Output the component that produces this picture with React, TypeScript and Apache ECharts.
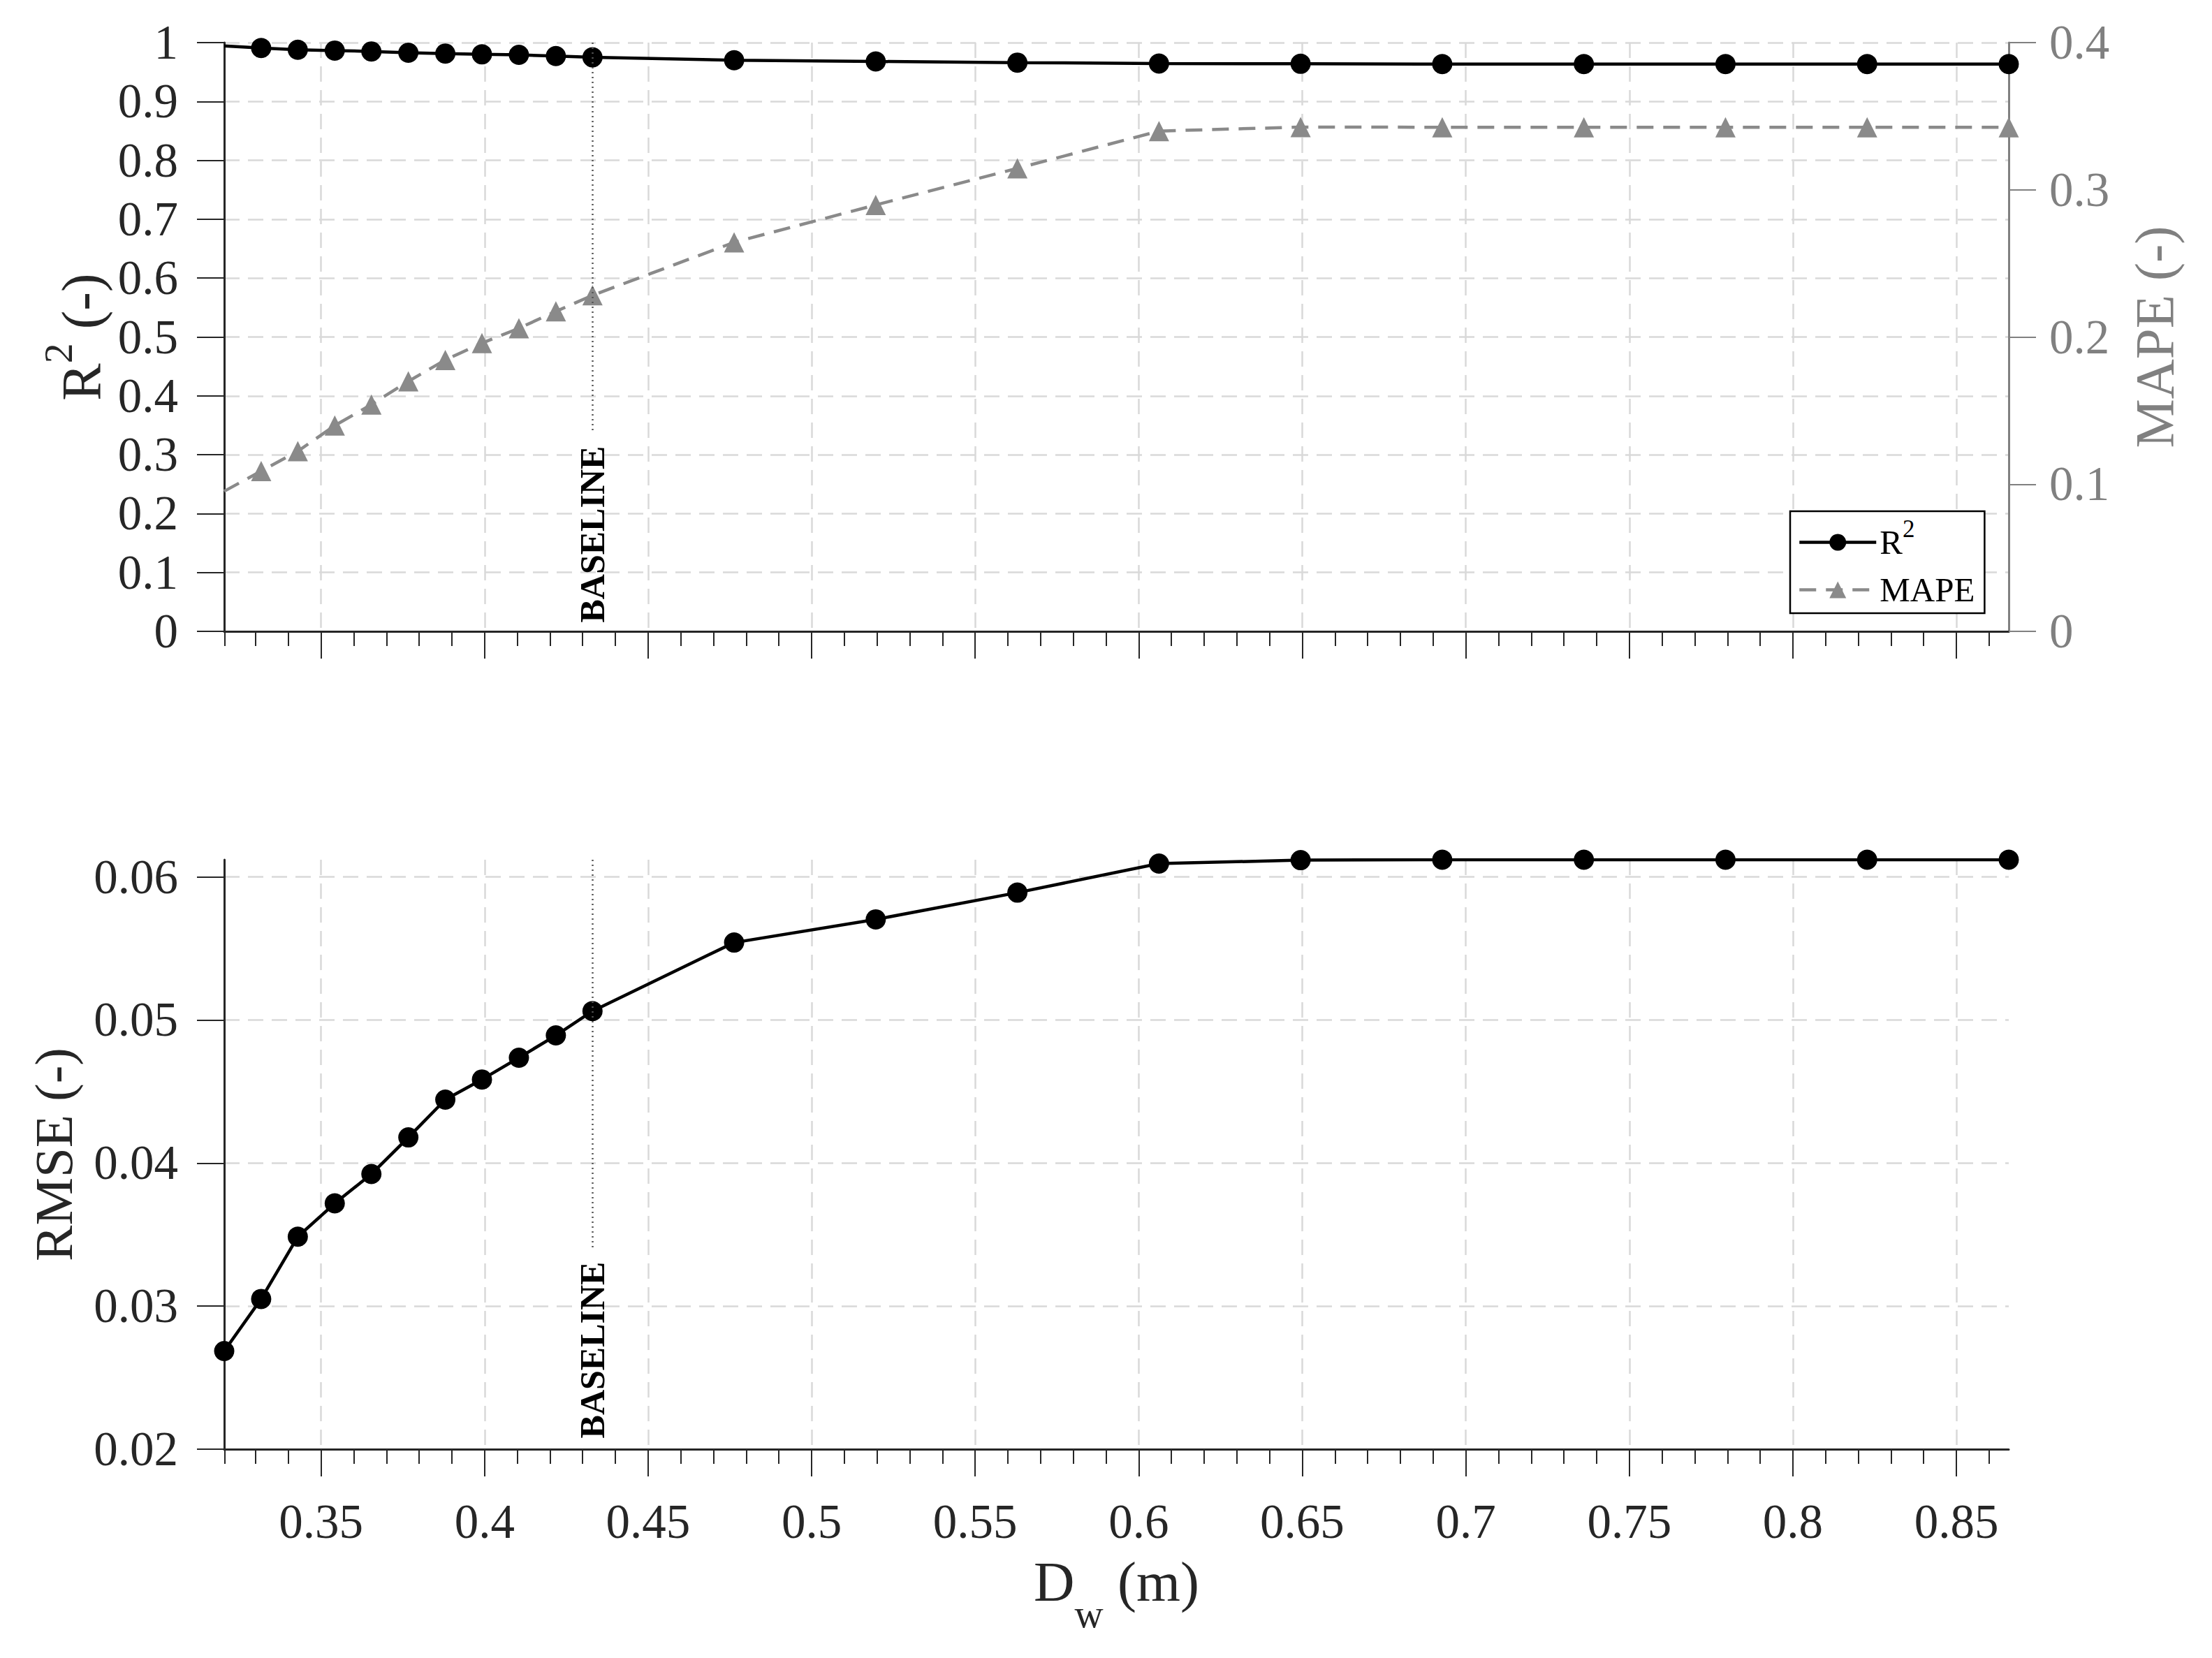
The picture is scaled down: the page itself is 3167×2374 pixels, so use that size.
import React, { useEffect, useRef } from 'react';
import * as echarts from 'echarts';

// ---- data ----
const dw = [0.3204, 0.3317, 0.3429, 0.3542, 0.3654, 0.3767, 0.388, 0.3992, 0.4105, 0.4218, 0.433,
  0.4763, 0.5196, 0.5629, 0.6062, 0.6495, 0.6928, 0.7361, 0.7794, 0.8227, 0.866];
const r2Values = [0.9944, 0.9908, 0.9879, 0.9865, 0.985, 0.9828, 0.9814, 0.98, 0.9792, 0.9771, 0.975,
  0.97, 0.968, 0.966, 0.9644, 0.964, 0.9636, 0.9636, 0.9636, 0.9636, 0.9636];
const mapeValues = [0.0952, 0.1089, 0.1224, 0.1398, 0.1541, 0.1699, 0.1844, 0.1958, 0.2059, 0.2174, 0.2283,
  0.2643, 0.2897, 0.3146, 0.3399, 0.3426, 0.3425, 0.3425, 0.3425, 0.3425, 0.3425];
const rmseValues = [0.02686, 0.0305, 0.03485, 0.03718, 0.03923, 0.04179, 0.04443, 0.04584, 0.04736, 0.04892, 0.05062,
  0.05541, 0.05703, 0.0589, 0.06093, 0.06117, 0.0612, 0.0612, 0.0612, 0.0612, 0.0612];

const xMin = 0.3204;
const xMax = 0.866;
const xMajorTicks = [0.35, 0.4, 0.45, 0.5, 0.55, 0.6, 0.65, 0.7, 0.75, 0.8, 0.85];
const xMinorTicks = [0.3205, 0.33, 0.34, 0.36, 0.37, 0.38, 0.39, 0.41, 0.42, 0.43, 0.44, 0.46, 0.47, 0.48, 0.49,
  0.51, 0.52, 0.53, 0.54, 0.56, 0.57, 0.58, 0.59, 0.61, 0.62, 0.63, 0.64, 0.66, 0.67, 0.68, 0.69,
  0.71, 0.72, 0.73, 0.74, 0.76, 0.77, 0.78, 0.79, 0.81, 0.82, 0.83, 0.84, 0.86];
const rmseTicks = [0.02, 0.03, 0.04, 0.05, 0.06];
const rmseMin = 0.02;
const rmseMax = 0.0612;

const baselineX = 0.433;
const baselineR2Line = [1, 0.339];
const baselineRmseLine = [0.0612, 0.0339];
const baselineR2LabelY = 0.0148;
const baselineRmseLabelY = 0.02076;

const FONT = "'Liberation Serif', 'Times New Roman', serif";
const AXIS = '#262626';
const GRAYAX = '#808080';
const SERIES_GRAY = '#8a8a8a';
const GRID_LINE = { show: true, lineStyle: { color: '#d9d9d9', width: 2.5, type: [22, 12] } };

function buildOption(): any {
  const r2Data = dw.map((x, i) => (i === 0 ? { value: [x, r2Values[i]], symbol: 'none' } : [x, r2Values[i]]));
  const mapeData = dw.map((x, i) => (i === 0 ? { value: [x, mapeValues[i]], symbol: 'none' } : [x, mapeValues[i]]));
  const rmseData = dw.map((x, i) => [x, rmseValues[i]]);

  const tickLabel = { fontFamily: FONT, fontSize: 69, color: AXIS };

  const mainX = (gridIndex: number, showLabels: boolean) => ({
    type: 'value', gridIndex, position: 'bottom', min: xMin, max: xMax,
    axisLine: { show: true, onZero: false, lineStyle: { color: AXIS, width: 3 } },
    axisTick: { show: true, length: 39, customValues: xMajorTicks, lineStyle: { color: AXIS, width: 2 } },
    axisLabel: showLabels
      ? { show: true, customValues: xMajorTicks, margin: 69, ...tickLabel, formatter: (v: number) => `${v}` }
      : { show: false },
    splitLine: GRID_LINE,
    minorTick: { show: false },
  });
  const minorX = (gridIndex: number) => ({
    type: 'value', gridIndex, position: 'bottom', min: xMin, max: xMax,
    axisLine: { show: false },
    axisTick: { show: true, length: 21, customValues: xMinorTicks, lineStyle: { color: AXIS, width: 2 } },
    axisLabel: { show: false },
    splitLine: { show: false },
  });

  const xAxis: any[] = [mainX(0, false), minorX(0), mainX(1, true), minorX(1)];
  xAxis[2].name = 'D{sub|w} (m)';
  xAxis[2].nameLocation = 'middle';
  xAxis[2].nameGap = 149;
  xAxis[2].nameMoveOverlap = false;
  xAxis[2].nameTextStyle = {
    fontFamily: FONT, fontSize: 81, color: AXIS, lineHeight: 81,
    rich: { sub: { fontFamily: FONT, fontSize: 57, color: AXIS, lineHeight: 57, padding: [92, 0, 0, 0] } },
  };

  const yAxis = [
    {
      type: 'value', gridIndex: 0, position: 'left', min: 0, max: 1, interval: 0.1,
      axisLine: { show: true, lineStyle: { color: AXIS, width: 3 } },
      axisTick: { show: true, length: 39, lineStyle: { color: AXIS, width: 2 } },
      axisLabel: { show: true, margin: 66, ...tickLabel },
      splitLine: GRID_LINE,
      name: 'R{sup|2} (-)', nameLocation: 'middle', nameRotate: 90, nameGap: 164, nameMoveOverlap: false,
      nameTextStyle: {
        fontFamily: FONT, fontSize: 80, color: AXIS, lineHeight: 80,
        rich: { sup: { fontFamily: FONT, fontSize: 58, color: AXIS, lineHeight: 58, padding: [0, 0, 68, 0] } },
      },
    },
    {
      type: 'value', gridIndex: 0, position: 'right', min: 0, max: 0.4, interval: 0.1,
      axisLine: { show: true, lineStyle: { color: GRAYAX, width: 3 } },
      axisTick: { show: true, length: 39, lineStyle: { color: GRAYAX, width: 2 } },
      axisLabel: { show: true, margin: 58, ...tickLabel, color: GRAYAX },
      splitLine: { show: false },
      name: 'MAPE (-)', nameLocation: 'middle', nameRotate: 90, nameGap: 169, nameMoveOverlap: false,
      nameTextStyle: { fontFamily: FONT, fontSize: 79, color: GRAYAX },
    },
    {
      type: 'value', gridIndex: 1, position: 'left', min: rmseMin, max: rmseMax,
      axisLine: { show: true, lineStyle: { color: AXIS, width: 3 } },
      axisTick: { show: true, length: 39, customValues: rmseTicks, lineStyle: { color: AXIS, width: 2 } },
      axisLabel: { show: true, margin: 66, customValues: rmseTicks, ...tickLabel, formatter: (v: number) => `${v}` },
      splitLine: GRID_LINE,
      name: 'RMSE (-)', nameLocation: 'middle', nameRotate: 90, nameGap: 206, nameMoveOverlap: false,
      nameTextStyle: { fontFamily: FONT, fontSize: 77, color: AXIS },
    },
  ];

  const baselineLabel = {
    show: true, formatter: 'BASELINE', position: 'inside', align: 'left', verticalAlign: 'middle', rotate: 90,
    fontFamily: FONT, fontWeight: 'bold', fontSize: 50, color: '#000',
  };
  const baselineLineStyle = { type: [2, 5], width: 2.5, color: '#555' };

  return {
    animation: false,
    backgroundColor: '#ffffff',
    textStyle: { fontFamily: FONT },
    grid: [
      { left: 321, top: 61, width: 2555, height: 843, outerBoundsMode: 'none', containLabel: false },
      { left: 321, top: 1231, width: 2555, height: 844, outerBoundsMode: 'none', containLabel: false },
    ],
    legend: {
      show: true, orient: 'vertical', left: 2563, top: 732,
      data: ['R2', 'MAPE'],
      backgroundColor: '#ffffff', borderColor: '#000', borderWidth: 2.5, borderRadius: 0,
      padding: [8, 14, 9, 11], itemGap: 7, itemWidth: 110, itemHeight: 30,
      selectedMode: false,
      lineStyle: { width: 4.5 },
      formatter: (name: string) => (name === 'R2' ? 'R{sup|2}' : name),
      textStyle: {
        fontFamily: FONT, fontSize: 49, color: '#000', lineHeight: 49,
        rich: { sup: { fontFamily: FONT, fontSize: 35, color: '#000', lineHeight: 35, padding: [0, 0, 38, 0] } },
      },
    },
    xAxis,
    yAxis,
    series: [
      {
        name: 'MAPE', type: 'line', xAxisIndex: 0, yAxisIndex: 1, data: mapeData,
        symbol: 'triangle', symbolSize: 29, showSymbol: true,
        lineStyle: { color: SERIES_GRAY, width: 4.5, type: [24, 14] },
        itemStyle: { color: SERIES_GRAY },
        z: 3,
      },
      {
        name: 'R2', type: 'line', xAxisIndex: 0, yAxisIndex: 0, data: r2Data,
        symbol: 'circle', symbolSize: 29, showSymbol: true,
        lineStyle: { color: '#000', width: 4.5 },
        itemStyle: { color: '#000' },
        z: 4,
        markLine: {
          silent: true, symbol: ['none', 'none'], label: { show: false },
          lineStyle: baselineLineStyle,
          data: [[{ coord: [baselineX, baselineR2Line[0]] }, { coord: [baselineX, baselineR2Line[1]] }]],
        },
        markPoint: {
          silent: true, symbol: 'circle', symbolSize: 1, itemStyle: { color: 'rgba(0,0,0,0)' },
          label: baselineLabel,
          data: [{ coord: [baselineX, baselineR2LabelY] }],
        },
      },
      {
        name: 'RMSE', type: 'line', xAxisIndex: 2, yAxisIndex: 2, data: rmseData,
        symbol: 'circle', symbolSize: 29, showSymbol: true,
        lineStyle: { color: '#000', width: 4.5 },
        itemStyle: { color: '#000' },
        z: 4,
        markLine: {
          silent: true, symbol: ['none', 'none'], label: { show: false },
          lineStyle: baselineLineStyle,
          data: [[{ coord: [baselineX, baselineRmseLine[0]] }, { coord: [baselineX, baselineRmseLine[1]] }]],
        },
        markPoint: {
          silent: true, symbol: 'circle', symbolSize: 1, itemStyle: { color: 'rgba(0,0,0,0)' },
          label: baselineLabel,
          data: [{ coord: [baselineX, baselineRmseLabelY] }],
        },
      },
    ],
  };
}

export default function App() {
  const ref = useRef<HTMLDivElement>(null);
  useEffect(() => {
    if (!ref.current) return;
    const chart = echarts.init(ref.current, null, { renderer: 'svg' });
    chart.setOption(buildOption());
    return () => chart.dispose();
  }, []);
  return (
    <div
      ref={ref}
      style={{ position: 'absolute', left: 0, top: 0, width: '3167px', height: '2374px', background: '#fff' }}
    />
  );
}
